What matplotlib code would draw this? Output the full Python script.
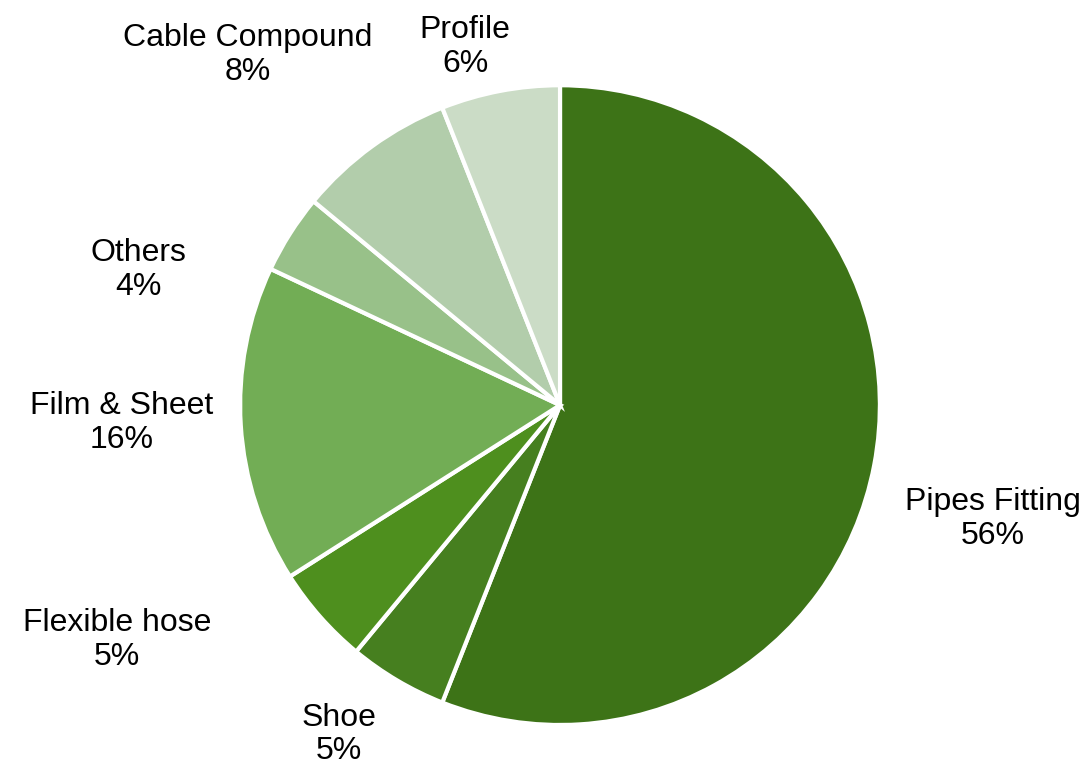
import matplotlib.pyplot as plt

labels = ["Pipes Fitting", "Shoe", "Flexible hose", "Film & Sheet", "Others", "Cable Compound", "Profile"]
shares = [56, 5, 5, 16, 4, 8, 6]
colors = ["#3d7317", "#467f1f", "#4e8f1e", "#72ad55", "#98c189", "#b2cdab", "#cbdcc6"]
# label anchor points in pie-radius units
label_x = [1.353, -0.69, -1.384, -1.372, -1.319, -0.975, -0.297]
label_y = [-0.356, -1.03, -0.734, -0.056, 0.422, 1.094, 1.119]

plt.rcParams["font.family"] = ["Liberation Sans", "DejaVu Sans"]

fig = plt.figure(figsize=(10.83, 7.68), dpi=100)
ax = fig.add_axes([0.2216, 0.056, 0.591, 0.833])
ax.pie(shares, colors=colors, startangle=90, counterclock=False, radius=1,
       wedgeprops={"edgecolor": "white", "linewidth": 3})
for name, val, x, y in zip(labels, shares, label_x, label_y):
    ax.text(x, y, f"{name}\n{val}%", ha="center", va="center", fontsize=23,
            linespacing=1.15, color="black")
ax.set_xlim(-1, 1)
ax.set_ylim(-1, 1)
ax.set_aspect("equal")
ax.axis("off")
fig.savefig("out.png", dpi=100)
